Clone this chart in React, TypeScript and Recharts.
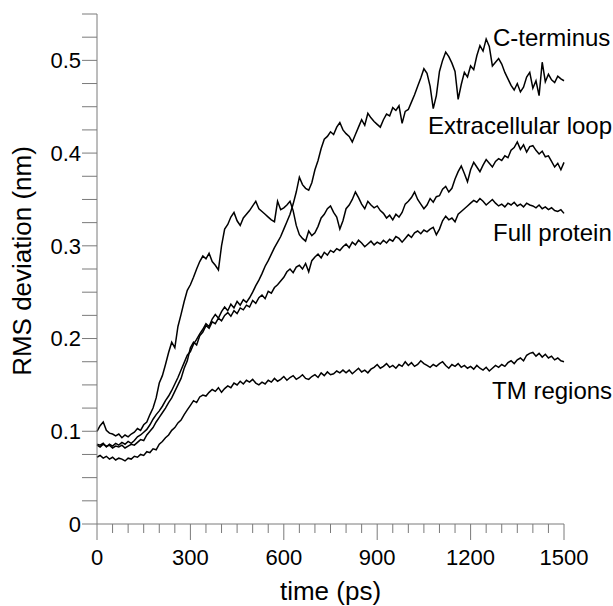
import { LineChart, Line, XAxis, YAxis, ReferenceDot } from 'recharts';

// sampled every 10 ps, 0..1500
const timeStepPs = 10;

const tmRegions = [
  0.072, 0.074, 0.071, 0.073, 0.070, 0.072, 0.069, 0.071, 0.070, 0.068,
  0.071, 0.070, 0.073, 0.072, 0.075, 0.074, 0.078, 0.077, 0.081, 0.080,
  0.086, 0.089, 0.093, 0.096, 0.101, 0.104, 0.109, 0.112, 0.118, 0.123,
  0.128, 0.133, 0.131, 0.137, 0.139, 0.138, 0.142, 0.145, 0.143, 0.147,
  0.142, 0.146, 0.149, 0.147, 0.152, 0.150, 0.154, 0.151, 0.155, 0.153,
  0.156, 0.152, 0.150, 0.153, 0.151, 0.155, 0.153, 0.157, 0.154, 0.156,
  0.159, 0.155, 0.158, 0.160, 0.156, 0.158, 0.161, 0.157, 0.156, 0.159,
  0.161, 0.158, 0.163, 0.160, 0.164, 0.161, 0.162, 0.165, 0.163, 0.166,
  0.163, 0.166, 0.162, 0.165, 0.168, 0.164, 0.166, 0.163, 0.167, 0.169,
  0.172, 0.168, 0.170, 0.173, 0.169, 0.171, 0.168, 0.172, 0.170, 0.175,
  0.171, 0.174, 0.170, 0.172, 0.176, 0.173, 0.171, 0.169, 0.172, 0.170,
  0.173, 0.175, 0.171, 0.168, 0.172, 0.170, 0.173, 0.169, 0.171, 0.168,
  0.170, 0.167, 0.171, 0.168, 0.166, 0.169, 0.165, 0.168, 0.171, 0.169,
  0.172, 0.170, 0.174, 0.176, 0.173, 0.177, 0.179, 0.176, 0.182, 0.184,
  0.185, 0.181, 0.184, 0.180, 0.183, 0.179, 0.181, 0.177, 0.179, 0.176,
  0.175,
];

const fullProtein = [
  0.085, 0.083, 0.086, 0.084, 0.085, 0.082, 0.084, 0.083, 0.085, 0.082,
  0.084, 0.086, 0.085, 0.088, 0.091, 0.090, 0.096, 0.100, 0.104, 0.110,
  0.115, 0.120, 0.125, 0.131, 0.136, 0.143, 0.150, 0.157, 0.168, 0.176,
  0.190, 0.196, 0.193, 0.203, 0.207, 0.214, 0.211, 0.218, 0.216, 0.222,
  0.219, 0.225, 0.228, 0.224, 0.230, 0.227, 0.233, 0.231, 0.236, 0.234,
  0.241, 0.238, 0.244, 0.247, 0.243, 0.251, 0.249, 0.255, 0.258, 0.262,
  0.266, 0.272, 0.275, 0.271, 0.277, 0.279, 0.275, 0.281, 0.272, 0.284,
  0.288, 0.291, 0.287, 0.293, 0.290, 0.295, 0.293, 0.297, 0.295, 0.299,
  0.302, 0.298, 0.304, 0.301, 0.306, 0.303, 0.299, 0.302, 0.305, 0.301,
  0.304, 0.302, 0.306, 0.303, 0.307, 0.305, 0.310, 0.308, 0.304, 0.308,
  0.312, 0.309, 0.314, 0.316, 0.313, 0.317, 0.315, 0.318, 0.320, 0.312,
  0.318, 0.327, 0.332, 0.328, 0.330, 0.326, 0.334, 0.337, 0.340, 0.343,
  0.346, 0.349, 0.347, 0.351, 0.348, 0.344, 0.347, 0.350, 0.346, 0.343,
  0.345, 0.342, 0.346, 0.344, 0.347, 0.343, 0.345, 0.342, 0.346, 0.344,
  0.343, 0.341, 0.344, 0.340, 0.342, 0.339, 0.341, 0.338, 0.337, 0.339,
  0.335,
];

const extracellularLoop = [
  0.100, 0.106, 0.110, 0.101, 0.098, 0.097, 0.095, 0.097, 0.093, 0.096,
  0.094, 0.097, 0.099, 0.103, 0.101, 0.107, 0.110, 0.118, 0.125, 0.136,
  0.152, 0.160, 0.172, 0.185, 0.196, 0.190, 0.213, 0.226, 0.240, 0.252,
  0.258, 0.266, 0.275, 0.283, 0.289, 0.286, 0.292, 0.283, 0.279, 0.274,
  0.300, 0.318, 0.323, 0.331, 0.336, 0.327, 0.322, 0.330, 0.334, 0.338,
  0.343, 0.348, 0.340, 0.337, 0.334, 0.331, 0.328, 0.326, 0.348, 0.339,
  0.341, 0.344, 0.348, 0.338, 0.322, 0.312, 0.308, 0.305, 0.316, 0.311,
  0.314, 0.321, 0.330, 0.334, 0.340, 0.343, 0.336, 0.331, 0.318, 0.327,
  0.340, 0.344, 0.350, 0.358, 0.352, 0.345, 0.340, 0.348, 0.344, 0.341,
  0.343, 0.338, 0.335, 0.330, 0.333, 0.328, 0.334, 0.331, 0.336, 0.345,
  0.348, 0.352, 0.358, 0.350, 0.345, 0.340, 0.344, 0.351, 0.347, 0.353,
  0.354, 0.361, 0.364, 0.358, 0.362, 0.372, 0.380, 0.386, 0.378, 0.369,
  0.382, 0.390, 0.385, 0.380, 0.387, 0.393, 0.389, 0.385, 0.391, 0.394,
  0.392, 0.397, 0.395, 0.403, 0.406, 0.412, 0.404, 0.409, 0.401, 0.407,
  0.408, 0.403, 0.399, 0.402, 0.396, 0.397, 0.391, 0.385, 0.389, 0.382,
  0.390,
];

const cTerminus = [
  0.086, 0.085, 0.087, 0.083, 0.086, 0.084, 0.087, 0.085, 0.088, 0.086,
  0.089, 0.087, 0.090, 0.094, 0.096, 0.099, 0.102, 0.107, 0.113, 0.118,
  0.122, 0.127, 0.133, 0.138, 0.144, 0.151, 0.158, 0.166, 0.174, 0.182,
  0.186, 0.194, 0.199, 0.205, 0.210, 0.216, 0.213, 0.221, 0.226, 0.222,
  0.229, 0.234, 0.230, 0.237, 0.233, 0.240, 0.236, 0.242, 0.239, 0.244,
  0.250, 0.257, 0.263, 0.270, 0.278, 0.284, 0.291, 0.298, 0.304, 0.310,
  0.318, 0.326, 0.334, 0.345, 0.358, 0.374, 0.366, 0.362, 0.360, 0.368,
  0.382, 0.392, 0.405, 0.415, 0.418, 0.423, 0.420, 0.428, 0.433, 0.425,
  0.421, 0.418, 0.412, 0.420, 0.428, 0.436, 0.430, 0.443, 0.438, 0.434,
  0.431, 0.428, 0.436, 0.442, 0.440, 0.449, 0.446, 0.451, 0.432, 0.445,
  0.447, 0.455, 0.463, 0.472, 0.481, 0.491, 0.486, 0.472, 0.448, 0.462,
  0.488, 0.500, 0.509, 0.504, 0.497, 0.488, 0.458, 0.474, 0.487, 0.482,
  0.494, 0.490, 0.505, 0.516, 0.510, 0.523, 0.515, 0.494, 0.498, 0.502,
  0.496, 0.487, 0.480, 0.473, 0.468, 0.475, 0.466, 0.471, 0.482, 0.487,
  0.470, 0.478, 0.462, 0.498, 0.477, 0.485, 0.479, 0.476, 0.483, 0.480,
  0.478,
];

const xTicks = [
  0, 50, 100, 150, 200, 250, 300, 350, 400, 450, 500, 550, 600, 650, 700, 750,
  800, 850, 900, 950, 1000, 1050, 1100, 1150, 1200, 1250, 1300, 1350, 1400, 1450, 1500,
];
const xMajorEvery = 300;

const yTicks = [
  0, 0.025, 0.05, 0.075, 0.1, 0.125, 0.15, 0.175, 0.2, 0.225, 0.25,
  0.275, 0.3, 0.325, 0.35, 0.375, 0.4, 0.425, 0.45, 0.475, 0.5, 0.525, 0.55,
];

// curve names, placed at (time, value) of the text baseline start
const curveLabels = [
  { text: 'C-terminus', t: 1272, v: 0.515 },
  { text: 'Extracellular loop', t: 1063, v: 0.4205 },
  { text: 'Full protein', t: 1272, v: 0.305 },
  { text: 'TM regions', t: 1269, v: 0.135 },
];

const rows = tmRegions.map((_, i) => ({
  t: i * timeStepPs,
  tm: tmRegions[i],
  full: fullProtein[i],
  loop: extracellularLoop[i],
  cterm: cTerminus[i],
}));

const font = '"Liberation Sans", Arial, Helvetica, sans-serif';
const axisGray = '#7a7a7a';

function XTick({ x, y, payload }: any) {
  const major = payload.value % xMajorEvery === 0;
  return (
    <g>
      <line x1={x} x2={x} y1={y} y2={y + (major ? 16 : 9)} stroke={axisGray} strokeWidth={1} />
      {major && (
        <text x={x} y={y + 41} textAnchor="middle" fontSize={22} fill="#000" fontFamily={font}>
          {payload.value}
        </text>
      )}
    </g>
  );
}

function yFormat(v: number) {
  return Math.round(v * 1000) % 100 === 0 ? String(Number(v.toFixed(1))) : '';
}

function CurveLabel({ viewBox, value }: any) {
  return (
    <text x={viewBox.x} y={viewBox.y} fontSize={24} fill="#000" fontFamily={font}>
      {value}
    </text>
  );
}

function XTitle({ viewBox }: any) {
  return (
    <text x={viewBox.x + viewBox.width / 2} y={viewBox.y + 76} textAnchor="middle" fontSize={26} fill="#000" fontFamily={font}>
      time (ps)
    </text>
  );
}

function YTitle({ viewBox }: any) {
  const cx = viewBox.x - 15;
  const cy = viewBox.y + viewBox.height / 2 - 8;
  return (
    <text
      x={cx}
      y={cy}
      transform={`rotate(-90, ${cx}, ${cy})`}
      textAnchor="middle"
      dominantBaseline="central"
      fontSize={26}
      fill="#000"
      fontFamily={font}
    >
      RMS deviation (nm)
    </text>
  );
}

export default function App() {
  return (
    <div style={{ position: 'absolute', left: 0, top: 0, background: '#fff' }}>
      <LineChart width={613} height={606} data={rows} margin={{ top: 14, right: 49, bottom: 22, left: 37 }}>
        <XAxis
          dataKey="t"
          type="number"
          domain={[0, 1500]}
          ticks={xTicks}
          interval={0}
          tickSize={0}
          tickMargin={0}
          tickLine={false}
          tick={<XTick />}
          stroke={axisGray}
          height={60}
          label={<XTitle />}
        />
        <YAxis
          type="number"
          domain={[0, 0.55]}
          ticks={yTicks}
          interval={0}
          tickSize={15}
          tickMargin={1}
          tickFormatter={yFormat}
          tick={{ fontSize: 22, fill: '#000', fontFamily: font }}
          stroke={axisGray}
          width={60}
          label={<YTitle />}
        />
        <Line dataKey="tm" stroke="#000" strokeWidth={1.5} dot={false} isAnimationActive={false} />
        <Line dataKey="full" stroke="#000" strokeWidth={1.5} dot={false} isAnimationActive={false} />
        <Line dataKey="loop" stroke="#000" strokeWidth={1.5} dot={false} isAnimationActive={false} />
        <Line dataKey="cterm" stroke="#000" strokeWidth={1.5} dot={false} isAnimationActive={false} />
        {curveLabels.map(l => (
          <ReferenceDot
            key={l.text}
            x={l.t}
            y={l.v}
            r={0}
            fill="none"
            stroke="none"
            label={<CurveLabel value={l.text} />}
          />
        ))}
      </LineChart>
    </div>
  );
}
